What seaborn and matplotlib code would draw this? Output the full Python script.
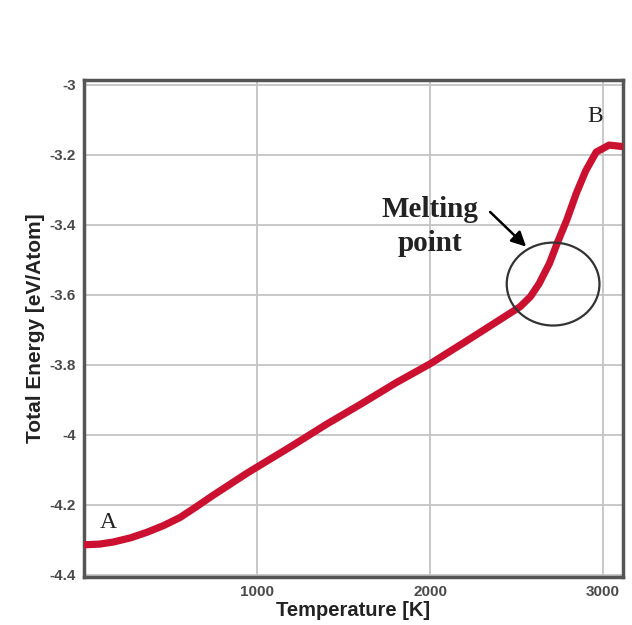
import numpy as np
import pandas as pd
import matplotlib
matplotlib.use("Agg")
import matplotlib.pyplot as plt
import seaborn as sns
from matplotlib.patches import Ellipse
from matplotlib.ticker import MultipleLocator

# ---- data ----
temperature = [0, 90, 170, 270, 365, 460, 555, 650, 745, 940, 1000, 1200, 1400,
               1600, 1800, 2000, 2200, 2400, 2520, 2580, 2630, 2690, 2735, 2790,
               2845, 2900, 2960, 3035, 3110]
energy = [-4.314, -4.312, -4.306, -4.294, -4.278, -4.259, -4.236, -4.205, -4.173,
          -4.110, -4.092, -4.032, -3.970, -3.912, -3.852, -3.797, -3.735, -3.672,
          -3.634, -3.605, -3.568, -3.510, -3.452, -3.386, -3.310, -3.245, -3.192,
          -3.172, -3.176]

x_ticks = [1000, 2000, 3000]
x_tick_labels = ["1000", "2000", "3000"]
y_ticks = [-4.4, -4.2, -4.0, -3.8, -3.6, -3.4, -3.2, -3.0]
y_tick_labels = ["-4.4", "-4.2", "-4", "-3.8", "-3.6", "-3.4", "-3.2", "-3"]

x_label = "Temperature [K]"
y_label = "Total Energy [eV/Atom]"
annot_text = "Melting\npoint"
label_a = "A"
label_b = "B"

sns.set_style("white")
fig = plt.figure(figsize=(6.32, 6.25), dpi=100)
ax = fig.add_axes([84 / 632, 1 - 577 / 625, (623 - 84) / 632, (577 - 80) / 625])

df = pd.DataFrame({"T": temperature, "E": energy})
sns.lineplot(data=df, x="T", y="E", ax=ax, color="#cc1030", linewidth=5.2,
             solid_capstyle="round", solid_joinstyle="round", zorder=3)

ax.set_xlim(0, 3115)
ax.set_ylim(-4.406, -2.986)
ax.set_xticks(x_ticks)
ax.set_xticklabels(x_tick_labels)
ax.set_yticks(y_ticks)
ax.set_yticklabels(y_tick_labels)
ax.yaxis.set_minor_locator(MultipleLocator(0.05))
ax.xaxis.set_minor_locator(MultipleLocator(250))

ax.grid(True, which="major", color="#c4c4c4", linewidth=1.3)
ax.set_axisbelow(True)
for s in ax.spines.values():
    s.set_color("#555555")
    s.set_linewidth(2.5)

ax.tick_params(which="major", direction="in", length=6, width=1.5, color="#444444",
               labelsize=11, labelcolor="#4a4a4a")
ax.tick_params(axis="x", which="major", pad=6)
ax.tick_params(axis="y", which="major", pad=6)
ax.tick_params(which="minor", direction="in", length=3, width=1.0, color="#666666")
for lab in ax.get_xticklabels() + ax.get_yticklabels():
    lab.set_fontweight("bold")
    lab.set_family("Liberation Sans")

ax.set_xlabel(x_label, fontsize=14.5, fontweight="bold", color="#222222", labelpad=1,
              family="Liberation Sans")
ax.set_ylabel(y_label, fontsize=15, fontweight="bold", color="#222222", labelpad=3,
              family="Liberation Sans")

# circle around melting region
ax.add_patch(Ellipse((2711, -3.569), 536, 0.237, fill=False, edgecolor="#333333",
                     linewidth=1.6, zorder=4))

ax.annotate("", xy=(2555, -3.462), xytext=(2347, -3.363),
            arrowprops=dict(arrowstyle="-|>", color="black", lw=1.8,
                            mutation_scale=22, shrinkA=0, shrinkB=0), zorder=5)

ax.text(2000, -3.405, annot_text, ha="center", va="center", multialignment="center",
        fontsize=21, fontweight="bold", family="Liberation Serif", color="#222222",
        linespacing=1.3)
ax.text(139, -4.251, label_a, ha="center", va="center", fontsize=17,
        family="Liberation Serif", color="#222222")
ax.text(2954, -3.091, label_b, ha="center", va="center", fontsize=17,
        family="Liberation Serif", color="#222222")

fig.savefig("out.png", dpi=100, facecolor="white")
